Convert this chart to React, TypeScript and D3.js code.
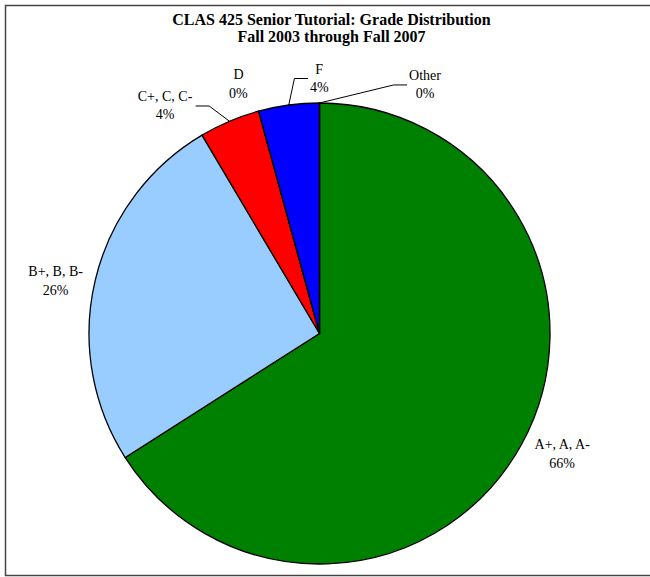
import React, { useEffect, useRef } from 'react'
import * as d3 from 'd3'

// grade buckets, clockwise from 12 o'clock
const categories = ['A+, A, A-', 'B+, B, B-', 'C+, C, C-', 'D', 'F', 'Other']
const counts = [31, 12, 2, 0, 2, 0]
const colors = ['#008000', '#99CCFF', '#FF0000', '#FFFF00', '#0000FF', '#C0C0C0']
const titleLines = ['CLAS 425 Senior Tutorial: Grade Distribution', 'Fall 2003 through Fall 2007']

// label placement tweaks (degrees off the slice middle, distance from centre)
const labelShift: Record<string, { da: number; r: number }> = {
  'A+, A, A-': { da: -2.3, r: 271 },
  'B+, B, B-': { da: -2.2, r: 269 },
  'C+, C, C-': { da: -11.2, r: 275 },
  D: { da: -2.7, r: 262 },
  F: { da: 7.6, r: 255 },
  Other: { da: 23, r: 270 },
}
const withLeader = ['C+, C, C-', 'F', 'Other']

const App = () => {
  const ref = useRef<SVGSVGElement>(null)

  useEffect(() => {
    const W = 650
    const H = 577
    const cx = 319.5
    const cy = 333.5
    const R = 230.5
    const font = '"Liberation Serif", "Times New Roman", serif'

    const svg = d3.select(ref.current).attr('width', W).attr('height', H)
    svg.selectAll('*').remove()

    svg
      .append('rect')
      .attr('x', 5.5)
      .attr('y', 5.5)
      .attr('width', 655)
      .attr('height', 570)
      .attr('fill', '#fff')
      .attr('stroke', '#444')
      .attr('stroke-width', 1.5)

    svg
      .append('g')
      .selectAll('text')
      .data(titleLines)
      .join('text')
      .attr('x', 331.5)
      .attr('y', (d, i) => 24.5 + i * 17)
      .attr('text-anchor', 'middle')
      .attr('font-family', font)
      .attr('font-weight', 'bold')
      .attr('font-size', 16)
      .attr('fill', '#000')
      .text((d) => d)

    const data = categories.map((c, i) => ({ name: c, value: counts[i], color: colors[i] }))
    const total = d3.sum(counts)
    const pct = d3.format('.0%')

    const pie = d3
      .pie<{ name: string; value: number; color: string }>()
      .sort(null)
      .value((d) => d.value)
    const arcs = pie(data)
    const arc = d3.arc<any>().innerRadius(0).outerRadius(R)

    const g = svg.append('g').attr('transform', `translate(${cx},${cy})`)
    g.selectAll('path')
      .data(arcs)
      .join('path')
      .attr('d', arc)
      .attr('fill', (d) => d.data.color)
      .attr('stroke', '#000')
      .attr('stroke-width', 1.3)
      .attr('stroke-linejoin', 'round')

    const polar = (a: number, r: number) => [cx + r * Math.sin(a), cy - r * Math.cos(a)]

    const labels = svg.append('g')
    arcs.forEach((d) => {
      const mid = (d.startAngle + d.endAngle) / 2
      const s = labelShift[d.data.name]
      const [lx, ly] = polar(mid + (s.da * Math.PI) / 180, s.r)
      const t = labels
        .append('text')
        .attr('text-anchor', 'middle')
        .attr('font-family', font)
        .attr('font-size', 14)
        .attr('fill', '#000')
      t.append('tspan').attr('x', lx).attr('y', ly - 5).text(d.data.name)
      t.append('tspan')
        .attr('x', lx)
        .attr('y', ly + 13.5)
        .text(pct(d.data.value / total))

      if (withLeader.includes(d.data.name)) {
        const box = (t.node() as SVGTextElement).getBBox()
        const [px, py] = polar(mid, R)
        const leftOfSlice = lx < px
        const x0 = leftOfSlice ? box.x + box.width + 3 : box.x - 2
        const x1 = leftOfSlice ? x0 + 13.5 : x0 - 13.5
        labels
          .append('polyline')
          .attr('points', `${x0},${ly} ${x1},${ly} ${px},${py}`)
          .attr('fill', 'none')
          .attr('stroke', '#000')
          .attr('stroke-width', 1)
      }
    })
  }, [])

  return <svg ref={ref} style={{ position: 'absolute', left: 0, top: 0 }}></svg>
}

export default App
